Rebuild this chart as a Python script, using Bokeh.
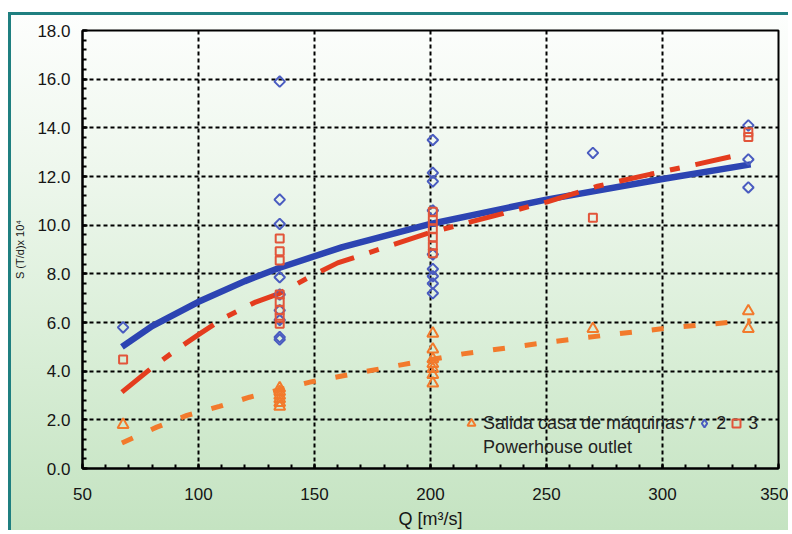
import math
from bokeh.plotting import figure
from bokeh.models import Range1d, FixedTicker, PrintfTickFormatter, Legend, LegendItem
from bokeh.embed import file_html
from bokeh.resources import INLINE

# ---- data ----
# series "2" (blue diamonds)
q2 = [67.5, 135, 135, 135, 135, 135, 135, 135, 135, 135,
      201, 201, 201, 201, 201, 201, 201, 201, 201,
      270, 337, 337, 337]
s2 = [5.8, 15.9, 11.05, 10.05, 7.86, 7.15, 6.5, 6.1, 5.4, 5.3,
      13.5, 12.15, 11.8, 10.6, 8.8, 8.2, 7.9, 7.6, 7.2,
      12.97, 14.1, 12.7, 11.55]

# series "3" (red squares)
q3 = [67.5, 135, 135, 135, 135, 135, 135, 135, 135,
      201, 201, 201, 201, 201, 201,
      270, 337, 337]
s3 = [4.48, 9.45, 8.93, 8.55, 7.15, 6.85, 6.5, 6.2, 5.95,
      10.55, 10.2, 9.85, 9.5, 9.15, 8.85,
      10.3, 13.82, 13.62]

# series "Salida casa de máquinas / Powerhouse outlet" (orange triangles)
q1 = [67.5, 135, 135, 135, 135, 135, 135,
      201, 201, 201, 201, 201, 201, 201,
      270, 337, 337]
s1 = [1.8, 3.3, 3.15, 3.0, 2.85, 2.7, 2.55,
      5.55, 4.9, 4.5, 4.3, 4.1, 3.85, 3.5,
      5.74, 6.47, 5.74]

# trend lines
blue_q = [67, 80, 100, 120, 135, 162, 200, 250, 300, 338]
blue_s = [5.0, 5.85, 6.85, 7.7, 8.25, 9.1, 10.05, 11.05, 11.9, 12.5]

red_q = [67, 79.4, 90, 100, 111, 124.6, 135, 149, 160, 200, 250, 272, 295, 309, 335]
red_s = [3.14, 4.1, 4.85, 5.5, 6.19, 6.84, 7.2, 7.93, 8.45, 9.7, 10.95, 11.6, 12.1, 12.38, 12.93]

orange_q = [67, 82, 95, 109, 122, 148, 159, 188, 214, 254, 280, 306, 333, 338]
orange_s = [1.05, 1.7, 2.18, 2.55, 2.93, 3.55, 3.75, 4.27, 4.71, 5.23, 5.53, 5.81, 6.04, 6.07]

x_ticks = [50, 100, 150, 200, 250, 300, 350]
y_ticks = [0, 2, 4, 6, 8, 10, 12, 14, 16, 18]

FONT = "Liberation Sans"
BLUE_LINE = "#2c44b2"
BLUE_MK = "#4a5cc0"
RED_LINE = "#e43c1e"
RED_MK = "#e2553a"
ORANGE = "#f27a2c"
NAN = float("nan")

p = figure(width=780, height=518, output_backend="svg", toolbar_location=None,
           x_range=Range1d(50, 350), y_range=Range1d(0, 18),
           min_border_left=70, min_border_right=13, min_border_top=15, min_border_bottom=65)
p.margin = (12, 0, 0, 8)
p.background_fill_color = None
p.border_fill_color = None
p.styles = {
    "background": "linear-gradient(to bottom, #fdfefd 0%, #eef7ed 30%, #d9eed7 65%, #c4e3c1 100%)",
    "border-left": "3px solid #1f7f80",
    "border-top": "3px solid #1f7f80",
}
p.outline_line_color = "black"
p.outline_line_width = 2

# lines
p.line(blue_q, blue_s, line_color=BLUE_LINE, line_width=6.5)
p.line(red_q, red_s, line_color=RED_LINE, line_width=5, line_dash="36 16 10 16")
p.line(orange_q, orange_s, line_color=ORANGE, line_width=5, line_dash="12 20")

# markers
r_tri = p.scatter(q1, s1, marker="triangle", size=11, fill_color=None,
                  line_color=ORANGE, line_width=2)
r_dia = p.scatter(q2, s2, marker="square", angle=math.pi / 4, size=7.5, fill_color=None,
                  line_color=BLUE_MK, line_width=2)
r_sq = p.scatter(q3, s3, marker="square", size=8, fill_color=None,
                 line_color=RED_MK, line_width=2)
# legend-only glyphs (not drawn: NaN position)
r_dia_leg = p.scatter([NAN], [NAN], marker="diamond", size=10, fill_color=None,
                      line_color=BLUE_MK, line_width=2)
r_none = p.scatter([NAN], [NAN], marker="square", size=1, alpha=0)

# axes
for ax in (p.xaxis[0], p.yaxis[0]):
    ax.axis_line_color = "black"
    ax.axis_line_width = 2
    ax.major_tick_in = 5
    ax.major_tick_out = 0
    ax.minor_tick_in = 4
    ax.minor_tick_out = 0
    ax.major_tick_line_color = "black"
    ax.minor_tick_line_color = "black"
    ax.major_tick_line_width = 2
    ax.minor_tick_line_width = 2
    ax.major_label_text_font = FONT
    ax.major_label_text_font_size = "17px"
    ax.major_label_text_color = "#151515"
    ax.axis_label_text_font = FONT
    ax.axis_label_text_font_style = "normal"
    ax.axis_label_text_color = "#151515"

p.xaxis.ticker = FixedTicker(ticks=x_ticks, minor_ticks=list(range(50, 351, 10)))
p.yaxis.ticker = FixedTicker(ticks=y_ticks, minor_ticks=[i * 0.4 for i in range(46)])
p.yaxis.formatter = PrintfTickFormatter(format="%.1f")
p.xaxis.major_label_standoff = 19
p.yaxis.major_label_standoff = 12
p.xaxis.axis_label = "Q [m³/s]"
p.xaxis.axis_label_text_font_size = "18px"
p.xaxis.axis_label_standoff = 6
p.yaxis.axis_label = "S (T/d)x 10⁴"
p.yaxis.axis_label_text_font_size = "11px"
p.yaxis.axis_label_standoff = 8

# grid
for g in (p.xgrid[0], p.ygrid[0]):
    g.grid_line_color = "black"
    g.grid_line_width = 2
    g.grid_line_dash = "4 3"
p.xgrid.ticker = FixedTicker(ticks=x_ticks)
p.ygrid.ticker = FixedTicker(ticks=y_ticks)

legend = Legend(items=[
    LegendItem(label="Salida casa de máquinas /", renderers=[r_tri]),
    LegendItem(label="2", renderers=[r_dia_leg]),
    LegendItem(label="3", renderers=[r_sq]),
    LegendItem(label="Powerhouse outlet", renderers=[r_none]),
], orientation="horizontal", ncols=3, location=(379, 9))
legend.background_fill_alpha = 0
legend.border_line_color = None
legend.padding = 0
legend.margin = 0
legend.spacing = 0
legend.glyph_width = 20
legend.glyph_height = 24
legend.label_height = 24
legend.label_width = 10
legend.label_standoff = 2
legend.label_text_font = FONT
legend.label_text_font_size = "18px"
legend.label_text_color = "#222222"
p.add_layout(legend)

open("out.html", "w").write(file_html(p, INLINE))
